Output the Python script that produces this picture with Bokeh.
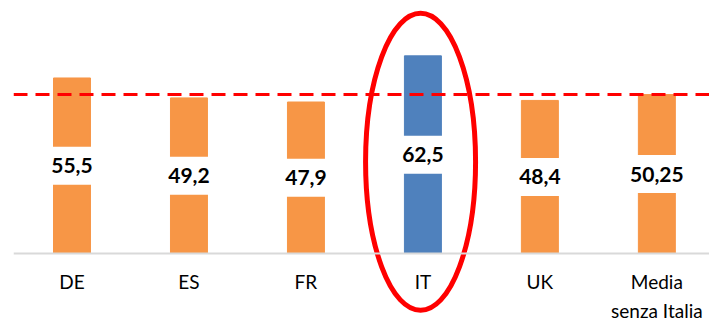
from bokeh.plotting import figure
from bokeh.models import ColumnDataSource, Span
from bokeh.embed import file_html
from bokeh.resources import INLINE
from bokeh.core.properties import value

countries = ["DE", "ES", "FR", "IT", "UK", "Media\nsenza Italia"]
values = [55.5, 49.2, 47.9, 62.5, 48.4, 50.25]
labels = ["55,5", "49,2", "47,9", "62,5", "48,4", "50,25"]
highlight = "IT"
average = values[-1]

ORANGE = "#F79646"
BLUE = "#4F81BD"
RED = "#FF0000"

idx = list(range(len(countries)))
colors = [BLUE if c == highlight else ORANGE for c in countries]
src = ColumnDataSource(dict(x=idx, top=values, mid=[v / 2 for v in values],
                            label=labels, color=colors, cat=countries,
                            zero=[0] * len(countries)))

# frame covers the whole canvas so the highlight ellipse is not clipped
p = figure(width=709, height=322, x_range=(-0.5, 5.45), y_range=(-21.82, 80),
           output_backend="svg", toolbar_location=None,
           x_axis_location=None, y_axis_location=None,
           min_border_left=13, min_border_right=0, min_border_top=0,
           min_border_bottom=0)
p.outline_line_color = None
p.xgrid.visible = False
p.ygrid.visible = False
p.background_fill_color = "white"
p.border_fill_color = "white"

# baseline (category axis line)
p.add_layout(Span(location=0, dimension="width", line_color="#D9D9D9",
                  line_width=2))

p.vbar(x="x", top="top", width=0.316, color="color", source=src)
p.rect(x="x", y="mid", width=0.36, height=38, height_units="screen",
       fill_color="white", line_color=None, source=src)
p.text(x="x", y="mid", text="label", source=src, text_align="center",
       text_baseline="middle", text_font=value("Lato"), text_font_style="bold",
       text_font_size="21px", text_color="black")

# category labels
p.text(x="x", y="zero", text="cat", source=src, text_align="center",
       text_baseline="top", y_offset=17, text_font=value("Lato"),
       text_font_size="19px", text_color="black", text_line_height=1.22)

p.add_layout(Span(location=average, dimension="width", line_color=RED,
                  line_width=3, line_dash="14 8"))

hi = countries.index(highlight)
p.ellipse(x=[hi - 0.02], y=[29], width=110, height=297, width_units="screen",
          height_units="screen", fill_color=None, line_color=RED, line_width=5)

open("out.html", "w").write(file_html(p, INLINE))
